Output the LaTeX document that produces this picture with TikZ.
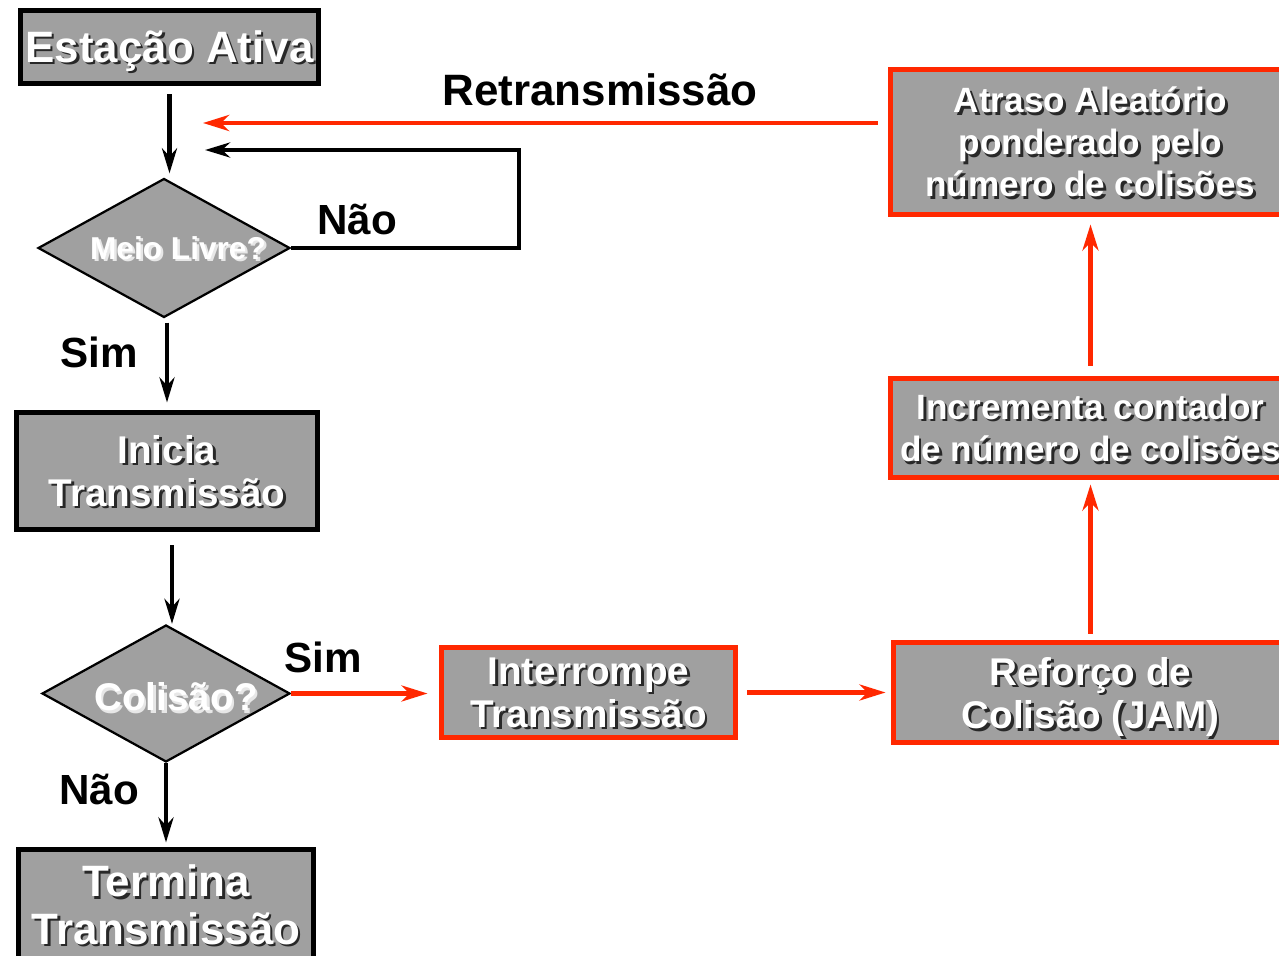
\documentclass[tikz,border=0pt]{standalone}
\usepackage{fontspec}
\setmainfont{Liberation Sans}
\usetikzlibrary{arrows.meta, shapes.geometric, calc}

\definecolor{BoxGray}{RGB}{160,160,160}
\definecolor{AlertRed}{RGB}{255,40,0}

\newcommand{\txtL}{\fontsize{25}{27}\selectfont\bfseries}
\newcommand{\txtM}{\fontsize{22}{24.5}\selectfont\bfseries}
\newcommand{\txtS}{\fontsize{20}{24}\selectfont\bfseries}
\newcommand{\txtD}{\fontsize{18}{20}\selectfont\bfseries}

% white text with a dark shadow, placed over a box
\newcommand{\shadowtext}[4][black]{%
  \node[inshadow, text=#1, font=#2] at ([shift={(0.05cm,-0.05cm)}]#3) {#4};
  \node[intext, font=#2] at (#3) {#4};
}

\tikzset{
  block/.style={draw=black, fill=BoxGray, line width=0.1cm, inner sep=0pt},
  redblock/.style={block, draw=AlertRed},
  decision/.style={diamond, draw=black, fill=BoxGray, line width=0.045cm, inner sep=0pt},
  flow/.style={line width=0.09cm, -{Stealth[length=0.5cm, width=0.3cm, inset=0.16cm]}},
  redflow/.style={flow, draw=AlertRed, -{Stealth[length=0.52cm, width=0.32cm, inset=0.16cm]}},
  lbl/.style={font=\fontsize{24}{26}\selectfont\bfseries, text=black, inner sep=0pt},
  intext/.style={text=white, align=center, inner sep=0pt},
  inshadow/.style={opacity=0.75, align=center, inner sep=0pt},
}

\begin{document}
\begin{tikzpicture}[x=0.02cm, y=-0.02cm]
\useasboundingbox (0,0) rectangle (1279,956);
\fill[white] (0,0) rectangle (1279,956);
\clip (0,0) rectangle (1279,956);

% left column
\node[block, minimum width=5.96cm, minimum height=1.46cm] (ativa) at (169.5,47) {};
\node[decision, minimum width=5.04cm, minimum height=2.78cm] (meio) at (164,248) {};
\node[block, minimum width=6.02cm, minimum height=2.34cm] (inicia) at (167,471) {};
\node[decision, minimum width=4.96cm, minimum height=2.74cm] (colisao) at (166,693.5) {};
\node[block, minimum width=5.9cm, minimum height=2.5cm] (termina) at (166,912) {};

% collision branch
\node[redblock, minimum width=5.88cm, minimum height=1.8cm] (interrompe) at (588.5,692.5) {};
\node[redblock, minimum width=7.9cm, minimum height=2.0cm] (reforco) at (1090.5,692.5) {};
\node[redblock, minimum width=8.0cm, minimum height=1.98cm] (incrementa) at (1090.5,428) {};
\node[redblock, minimum width=8.0cm, minimum height=2.9cm] (atraso) at (1090.5,142) {};

\coordinate (retr) at (203,123);
\coordinate (loopturn) at (519,150);
\coordinate (loopin) at (205,150);
\coordinate (ativatxt) at (169.5,51);
\coordinate (meiotxt) at (178,248);
\coordinate (colisaotxt) at (176,697);
\coordinate (terminatxt) at (166,905);
\coordinate (reforcotxt) at (1090.5,697);

% texts
\shadowtext{\txtL}{ativatxt}{Estação Ativa}
\shadowtext[white]{\txtD}{meiotxt}{Meio Livre?}
\shadowtext{\txtM}{inicia}{Inicia\\Transmissão}
\shadowtext[white]{\txtM}{colisaotxt}{Colisão?}
\shadowtext{\txtL}{terminatxt}{Termina\\Transmissão}
\shadowtext{\txtM}{interrompe}{Interrompe\\Transmissão}
\shadowtext{\txtM}{reforcotxt}{Reforço de\\Colisão (JAM)}
\shadowtext{\txtS}{incrementa}{Incrementa contador\\de número de colisões}
\shadowtext{\txtS}{atraso}{Atraso Aleatório\\ponderado pelo\\número de colisões}

% labels
\node[lbl, font=\txtL] (retrlbl) at (600,90) {Retransmissão};
\node[lbl] (naoloop) at (357,220) {Não};
\node[lbl] (simlivre) at (99,352) {Sim};
\node[lbl] (simcol) at (323,657) {Sim};
\node[lbl] (naocol) at (99,790) {Não};

% black connectors
\draw[flow, shorten <=0.17cm, shorten >=0.08cm] (ativa.south) -- (ativa.south |- meio.north);
\draw[flow] (meio.east) -| (loopturn) -- (loopin);
\draw[flow, shorten <=0.08cm, shorten >=0.15cm] (inicia.north |- meio.south) -- (inicia.north);
\draw[flow, shorten <=0.27cm] ([xshift=0.1cm]inicia.south) -- ([xshift=0.1cm]inicia.south |- colisao.north);
\draw[flow, shorten >=0.09cm] (colisao.south) -- (colisao.south |- termina.north);

% red connectors
\draw[redflow, shorten >=0.23cm] (colisao.east) -- (colisao.east -| interrompe.west);
\draw[redflow, shorten <=0.19cm, shorten >=0.1cm] (interrompe.east) -- (interrompe.east -| reforco.west);
\draw[redflow, shorten <=0.13cm, shorten >=0.09cm] (reforco.north) -- (incrementa.south);
\draw[redflow, shorten <=0.21cm, shorten >=0.15cm] (incrementa.north) -- (atraso.south);
\draw[redflow, shorten <=0.21cm] (atraso.west |- retr) -- (retr);
\end{tikzpicture}
\end{document}
